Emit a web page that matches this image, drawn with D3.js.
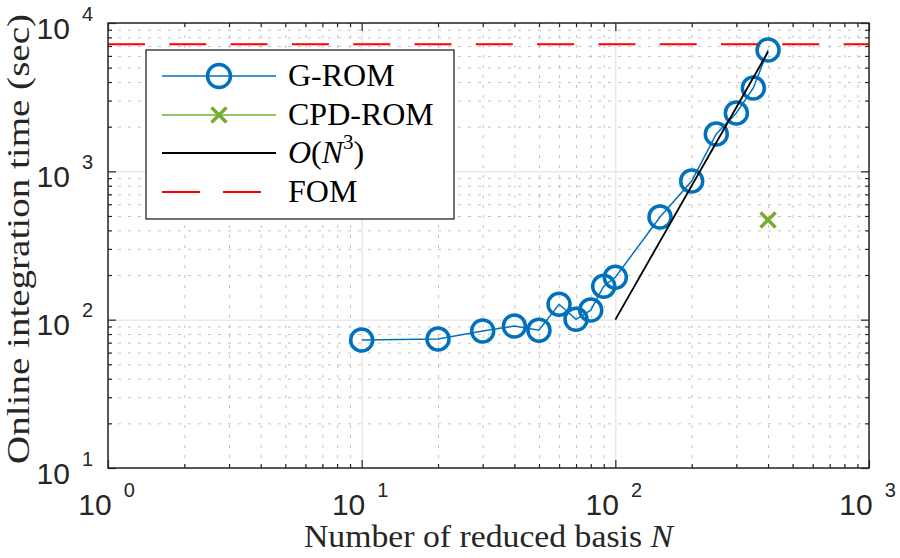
<!DOCTYPE html>
<html>
<head>
<meta charset="utf-8">
<script src="https://cdn.jsdelivr.net/npm/d3@7"></script>
<style>
  body { margin: 0; background: #fff; }
</style>
</head>
<body>
<svg id="chart" width="900" height="558"></svg>
<script>
// values
var basisN = [10, 20, 30, 40, 50, 60, 70, 80, 90, 100, 150, 200, 250, 300, 350, 400];
var gromTime = [73, 74, 84, 90.5, 85, 127, 100.5, 116, 168, 193, 492, 861, 1786, 2474, 3650, 6580];
var cpdN = [400];
var cpdTime = [470];
var cubicN = [100, 400];
var cubicTime = [100, 6400];
var fomN = [1, 1000];
var fomTime = [7200, 7200];
var xDecades = [1, 10, 100, 1000];
var yDecades = [10, 100, 1000, 10000];
var legendLabels = ["G-ROM", "CPD-ROM", "O(N3)", "FOM"];

var svg = d3.select("#chart");
var pLeft = 108, pRight = 869, pTop = 23, pBottom = 468;
var plotH = pBottom - pTop, plotW = pRight - pLeft;

var x = d3.scaleLog().domain([1, 1000]).range([pLeft, pRight]);
var y = d3.scaleLog().domain([10, 10000]).range([pBottom, pTop]);

const minorOf = (decades) => {
  var out = [];
  decades.slice(0, -1).forEach(function (d) {
    for (var k = 2; k <= 9; k++) out.push(d * k);
  });
  return out;
};
var xMinor = minorOf(xDecades);
var yMinor = minorOf(yDecades);

var axisColor = "#262626";

// ---- grid ----
function grid(axis, tr) {
  var g = svg.append("g").attr("transform", tr).call(axis);
  g.select(".domain").remove();
  return g;
}
var minorStyle = function (g) {
  g.selectAll("line").attr("stroke", "#c4c4c4").attr("stroke-width", 1).attr("stroke-dasharray", "3,7");
};
var majorStyle = function (g) {
  g.selectAll("line").attr("stroke", "#dedede").attr("stroke-width", 1);
};
grid(d3.axisBottom(x).tickValues(xMinor).tickSize(-plotH).tickFormat(""), "translate(0," + pBottom + ")").call(minorStyle);
grid(d3.axisLeft(y).tickValues(yMinor).tickSize(-plotW).tickFormat(""), "translate(" + pLeft + ",0)").call(minorStyle);
grid(d3.axisBottom(x).tickValues(xDecades).tickSize(-plotH).tickFormat(""), "translate(0," + pBottom + ")").call(majorStyle);
grid(d3.axisLeft(y).tickValues(yDecades).tickSize(-plotW).tickFormat(""), "translate(" + pLeft + ",0)").call(majorStyle);

// ---- data ----
var line = d3.line().x(function (d) { return x(d[0]); }).y(function (d) { return y(d[1]); });
var gromData = d3.zip(basisN, gromTime);

svg.append("path").datum(gromData)
  .attr("d", line).attr("fill", "none")
  .attr("stroke", "#0072BD").attr("stroke-width", 1.5);

svg.append("g").selectAll("circle").data(gromData).enter().append("circle")
  .attr("cx", function (d) { return x(d[0]); })
  .attr("cy", function (d) { return y(d[1]); })
  .attr("r", 11)
  .attr("fill", "none")
  .attr("stroke", "#0072BD")
  .attr("stroke-width", 3.5);

function cross(g, cx, cy, s) {
  g.append("path")
    .attr("d", "M" + (cx - s) + "," + (cy - s) + "L" + (cx + s) + "," + (cy + s) +
               "M" + (cx - s) + "," + (cy + s) + "L" + (cx + s) + "," + (cy - s))
    .attr("stroke", "#77AC30").attr("stroke-width", 3.5).attr("fill", "none");
}
var cpdG = svg.append("g");
d3.zip(cpdN, cpdTime).forEach(function (d) { cross(cpdG, x(d[0]), y(d[1]), 7.5); });

svg.append("path").datum(d3.zip(cubicN, cubicTime))
  .attr("d", line).attr("fill", "none")
  .attr("stroke", "#000").attr("stroke-width", 1.8);

svg.append("path").datum(d3.zip(fomN, fomTime))
  .attr("d", line).attr("fill", "none")
  .attr("stroke", "#FF0000").attr("stroke-width", 2)
  .attr("stroke-dasharray", "37,24.3");

// ---- ticks (inside, all four sides) ----
function ticks(axis, tr) {
  var g = svg.append("g").attr("transform", tr).call(axis);
  g.select(".domain").remove();
  g.selectAll("line").attr("stroke", axisColor).attr("stroke-width", 1.2);
}
[["b", "translate(0," + pBottom + ")"], ["t", "translate(0," + pTop + ")"]].forEach(function (s) {
  var mk = s[0] == "b" ? d3.axisBottom : d3.axisTop;
  ticks(mk(x).tickValues(xDecades).tickSize(-8).tickFormat(""), s[1]);
  ticks(mk(x).tickValues(xMinor).tickSize(-4).tickFormat(""), s[1]);
});
[["l", "translate(" + pLeft + ",0)"], ["r", "translate(" + pRight + ",0)"]].forEach(function (s) {
  var mk = s[0] == "l" ? d3.axisLeft : d3.axisRight;
  ticks(mk(y).tickValues(yDecades).tickSize(-8).tickFormat(""), s[1]);
  ticks(mk(y).tickValues(yMinor).tickSize(-4).tickFormat(""), s[1]);
});

svg.append("rect")
  .attr("x", pLeft).attr("y", pTop).attr("width", plotW).attr("height", plotH)
  .attr("fill", "none").attr("stroke", axisColor).attr("stroke-width", 1.5);

// ---- tick labels 10^k ----
function powerLabels(g, tx, ty) {
  g.select(".domain").remove();
  g.attr("font-family", "'Liberation Sans', Arial, sans-serif").attr("font-size", 30);
  g.selectAll(".tick text").each(function (d) {
    var t = d3.select(this).text(null)
      .attr("x", tx).attr("y", ty).attr("dy", null).attr("fill", axisColor);
    t.append("tspan").text("10");
    t.append("tspan").attr("dx", 12).attr("dy", -18).attr("font-size", 20)
      .text(Math.round(Math.log10(d)));
  });
}
svg.append("g").attr("transform", "translate(0," + pBottom + ")")
  .call(d3.axisBottom(x).tickValues(xDecades).tickSize(0))
  .call(powerLabels, -2, 47);
svg.append("g").attr("transform", "translate(" + pLeft + ",0)")
  .call(d3.axisLeft(y).tickValues(yDecades).tickSize(0))
  .call(powerLabels, -15, 15);

// ---- axis titles ----
var serif = "'Liberation Serif', 'Times New Roman', serif";
var xt = svg.append("text")
  .attr("x", (pLeft + pRight) / 2).attr("y", 547)
  .attr("text-anchor", "middle")
  .attr("font-family", serif).attr("font-size", 31).attr("fill", axisColor)
  .attr("textLength", 369).attr("lengthAdjust", "spacingAndGlyphs");
xt.append("tspan").text("Number of reduced basis ");
xt.append("tspan").attr("font-style", "italic").text("N");

svg.append("text")
  .attr("transform", "translate(29,239) rotate(-90)")
  .attr("text-anchor", "middle")
  .attr("font-family", serif).attr("font-size", 31).attr("fill", axisColor)
  .attr("textLength", 450).attr("lengthAdjust", "spacingAndGlyphs")
  .text("Online integration time (sec)");

// ---- legend ----
var lg = svg.append("g");
lg.append("rect")
  .attr("x", 146).attr("y", 50).attr("width", 308).attr("height", 169)
  .attr("fill", "#fff").attr("stroke", axisColor).attr("stroke-width", 1.3);

var rowY = [76, 115, 153, 192];
var l0 = 162, l1 = 276, lm = 219;
lg.append("line").attr("x1", l0).attr("x2", l1).attr("y1", rowY[0]).attr("y2", rowY[0])
  .attr("stroke", "#0072BD").attr("stroke-width", 1.5);
lg.append("circle").attr("cx", lm).attr("cy", rowY[0]).attr("r", 11.5)
  .attr("fill", "none").attr("stroke", "#0072BD").attr("stroke-width", 3.5);
lg.append("line").attr("x1", l0).attr("x2", l1).attr("y1", rowY[1]).attr("y2", rowY[1])
  .attr("stroke", "#77AC30").attr("stroke-width", 1.5);
cross(lg, lm, rowY[1], 7.5);
lg.append("line").attr("x1", l0).attr("x2", l1).attr("y1", rowY[2]).attr("y2", rowY[2])
  .attr("stroke", "#000").attr("stroke-width", 1.8);
lg.append("line").attr("x1", l0).attr("x2", l1).attr("y1", rowY[3]).attr("y2", rowY[3])
  .attr("stroke", "#FF0000").attr("stroke-width", 2).attr("stroke-dasharray", "38,23");

legendLabels.forEach(function (lab, i) {
  var t = lg.append("text").attr("x", 288).attr("y", rowY[i] + 9.5)
    .attr("font-family", serif).attr("font-size", 32).attr("fill", "#000");
  if (lab == "O(N3)") {
    t.append("tspan").attr("font-style", "italic").text("O");
    t.append("tspan").text("(");
    t.append("tspan").attr("font-style", "italic").text("N");
    t.append("tspan").attr("font-size", 21).attr("dy", -14).text("3");
    t.append("tspan").attr("dy", 14).text(")");
  } else {
    t.text(lab);
  }
});
</script>
</body>
</html>
